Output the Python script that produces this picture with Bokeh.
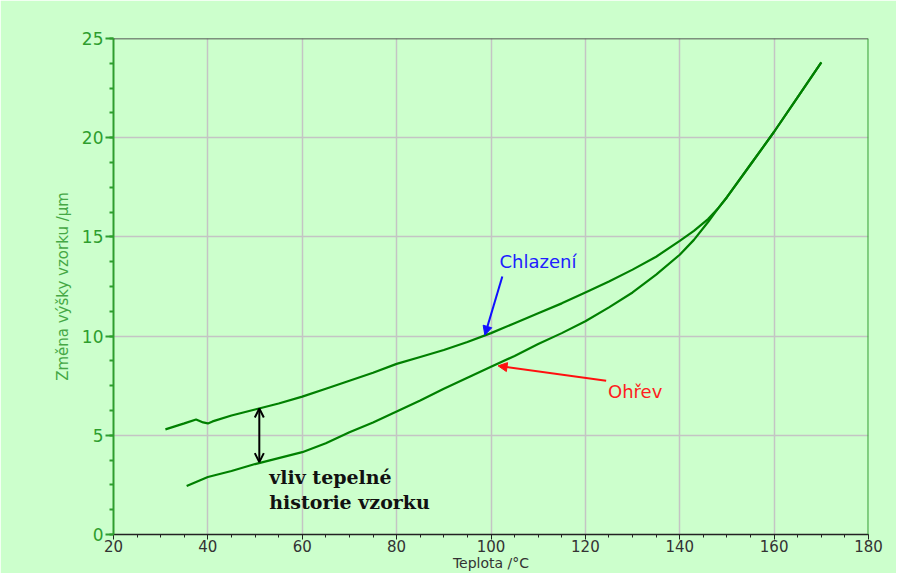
from bokeh.plotting import figure
from bokeh.models import (Range1d, Span, Arrow, NormalHead, OpenHead, Label,
                          FixedTicker)
from bokeh.embed import file_html
from bokeh.resources import INLINE

# ---- data ----
heat_T = [35.5, 40, 45, 50, 55, 60, 65, 70, 75, 80, 85, 90, 95, 100, 105, 110,
          115, 120, 125, 130, 135, 140, 143, 146, 148, 150, 155, 160, 165, 170]
heat_dL = [2.45, 2.9, 3.2, 3.55, 3.85, 4.15, 4.6, 5.15, 5.65, 6.2, 6.75, 7.35,
           7.9, 8.45, 9.0, 9.6, 10.15, 10.75, 11.45, 12.2, 13.1, 14.1, 14.85,
           15.75, 16.4, 17.0, 18.65, 20.3, 22.05, 23.8]

cool_T = [170, 165, 160, 155, 150, 148, 146, 143, 140, 135, 130, 125, 120, 115,
          110, 105, 100, 95, 90, 85, 80, 75, 70, 65, 60, 55, 50, 45, 41, 40,
          39, 37.5, 35, 33, 31]
cool_dL = [23.8, 22.05, 20.3, 18.65, 17.0, 16.4, 15.9, 15.3, 14.8, 14.0,
           13.35, 12.75, 12.2, 11.65, 11.15, 10.65, 10.15, 9.7, 9.3, 8.95, 8.6,
           8.15, 7.75, 7.35, 6.95, 6.6, 6.3, 6.0, 5.7, 5.6, 5.65, 5.8, 5.6,
           5.45, 5.3]

x_ticks = [20, 40, 60, 80, 100, 120, 140, 160, 180]
y_ticks = [0, 5, 10, 15, 20, 25]

# annotation anchors (data units)
chl_arrow = (102.4, 13.0, 98.7, 10.05)
ohr_arrow = (124.4, 7.75, 101.5, 8.5)
gap_arrow = (50.9, 6.35, 50.9, 3.65)

BG = "#CCFFCC"
GREEN = "#008000"
AXG = "#2E9E2E"
SANS = "DejaVu Sans"
W, H = 896, 573

p = figure(width=W, height=H, output_backend="svg", toolbar_location=None,
           x_range=Range1d(20, 180), y_range=Range1d(0, 25),
           min_border_left=113, min_border_right=28, min_border_top=38,
           min_border_bottom=H - 538)
p.background_fill_color = BG
p.border_fill_color = BG
p.outline_line_color = None

p.line(heat_T, heat_dL, line_color=GREEN, line_width=2.2)
p.line(cool_T, cool_dL, line_color=GREEN, line_width=2.2)

# grid
for g in (p.xgrid[0], p.ygrid[0]):
    g.grid_line_color = "#C4C4C4"
    g.grid_line_width = 1.5
p.xgrid[0].ticker = FixedTicker(ticks=x_ticks)
p.ygrid[0].ticker = FixedTicker(ticks=y_ticks)

# frame top/right
p.add_layout(Span(location=25, dimension="width", line_color="#222222", line_width=1.5))
p.add_layout(Span(location=180, dimension="height", line_color=AXG, line_width=2))

# x axis
xa = p.xaxis[0]
xa.ticker = FixedTicker(ticks=x_ticks, minor_ticks=[t for t in range(20, 181, 5)])
xa.axis_line_color = "#222222"
xa.axis_line_width = 1.5
xa.major_tick_line_color = "#222222"
xa.minor_tick_line_color = "#222222"
xa.major_tick_out = 5
xa.major_tick_in = 0
xa.minor_tick_out = 3
xa.minor_tick_in = 0
xa.major_label_text_font = SANS
xa.major_label_text_font_size = "15px"
xa.major_label_text_color = "#333333"
xa.major_label_standoff = 0
xa.axis_label = "Teplota /°C"
xa.axis_label_text_font = SANS
xa.axis_label_text_font_size = "14px"
xa.axis_label_text_font_style = "normal"
xa.axis_label_text_color = "#333333"
xa.axis_label_standoff = 0

# y axis
ya = p.yaxis[0]
ya.ticker = FixedTicker(ticks=y_ticks, minor_ticks=[i * 1.25 for i in range(21)])
ya.axis_line_color = AXG
ya.axis_line_width = 2
ya.major_tick_line_color = AXG
ya.minor_tick_line_color = AXG
ya.major_tick_line_width = 2
ya.minor_tick_line_width = 2
ya.major_tick_out = 8
ya.major_tick_in = 0
ya.minor_tick_out = 4
ya.minor_tick_in = 0
ya.major_label_text_font = SANS
ya.major_label_text_font_size = "17px"
ya.major_label_text_color = AXG
ya.major_label_standoff = 2
ya.axis_label = "Změna výšky vzorku /µm"
ya.axis_label_text_font = SANS
ya.axis_label_text_font_size = "15px"
ya.axis_label_text_font_style = "normal"
ya.axis_label_text_color = "#45A845"
ya.axis_label_standoff = 7

# annotations
p.add_layout(Arrow(x_start=chl_arrow[0], y_start=chl_arrow[1], x_end=chl_arrow[2], y_end=chl_arrow[3],
                   line_color="#1010FF", line_width=2,
                   end=NormalHead(size=9, fill_color="#1010FF", line_color="#1010FF")))
p.add_layout(Label(x=101.8, y=13.25, text="Chlazení", text_color="#2020FF",
                   text_font=SANS, text_font_size="18px",
                   text_baseline="bottom"))
p.add_layout(Arrow(x_start=ohr_arrow[0], y_start=ohr_arrow[1], x_end=ohr_arrow[2], y_end=ohr_arrow[3],
                   line_color="#FF1010", line_width=2,
                   end=NormalHead(size=9, fill_color="#FF1010", line_color="#FF1010")))
p.add_layout(Label(x=124.8, y=7.2, text="Ohřev", text_color="#FF2020",
                   text_font=SANS, text_font_size="18px",
                   text_baseline="middle"))
p.add_layout(Arrow(x_start=gap_arrow[0], y_start=gap_arrow[1], x_end=gap_arrow[2], y_end=gap_arrow[3],
                   line_color="black", line_width=2,
                   start=OpenHead(size=9, line_color="black", line_width=2),
                   end=OpenHead(size=9, line_color="black", line_width=2)))
p.add_layout(Label(x=53.0, y=2.9, text="vliv tepelné", text_color="#111111",
                   text_font="DejaVu Serif", text_font_size="19px",
                   text_font_style="bold", text_baseline="middle"))
p.add_layout(Label(x=53.0, y=1.65, text="historie vzorku", text_color="#111111",
                   text_font="DejaVu Serif", text_font_size="19px",
                   text_font_style="bold", text_baseline="middle"))

open("out.html", "w").write(file_html(p, INLINE))
